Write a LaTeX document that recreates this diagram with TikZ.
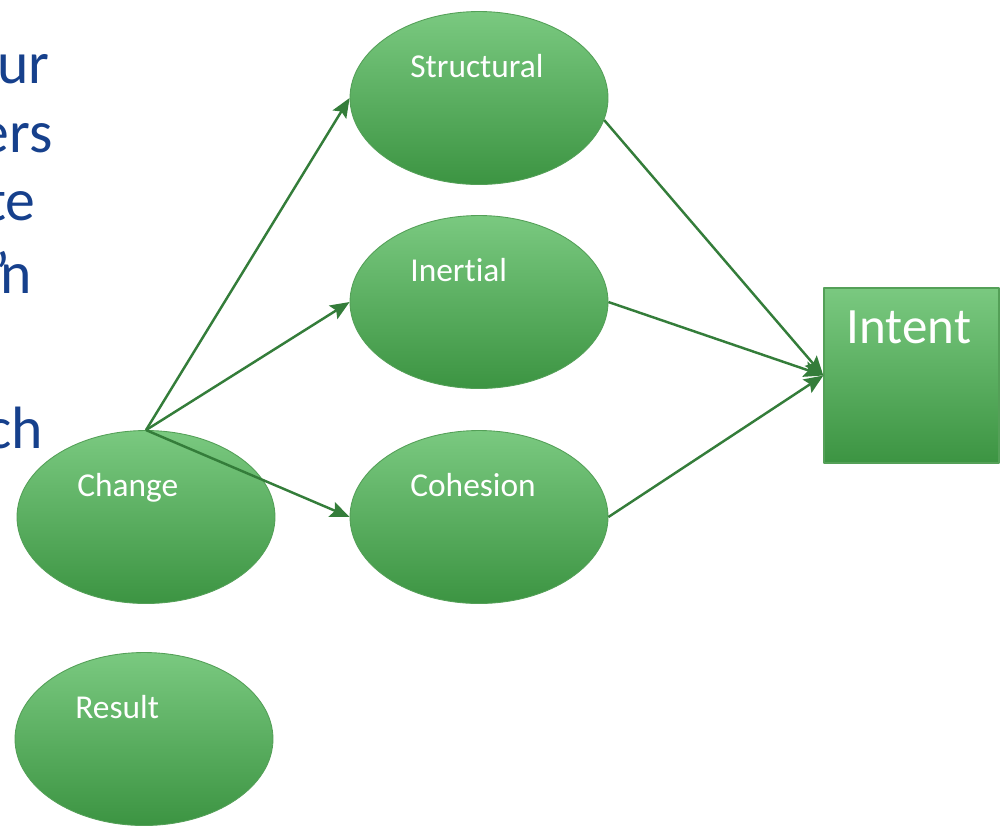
\documentclass[tikz,border=0pt]{standalone}
\usepackage{fontspec}
\setmainfont{Carlito}[Ligatures=NoCommon]
\usetikzlibrary{shapes.geometric,arrows.meta}
\definecolor{leaftop}{RGB}{122,201,128}
\definecolor{leafbot}{RGB}{60,148,66}
\definecolor{leafedge}{RGB}{84,160,88}
\definecolor{arrowgreen}{RGB}{52,125,58}
\definecolor{slideblue}{RGB}{22,64,140}
\begin{document}
\begin{tikzpicture}[x=0.02cm, y=-0.02cm, line join=round, >={Stealth[length=11pt,width=9pt,inset=2pt]}]
		\tikzset{blob/.style={ellipse, minimum width=5.16cm, minimum height=3.46cm, inner sep=0pt,
				top color=leaftop, bottom color=leafbot, draw=leafedge, line width=0.5pt},
			box/.style={rectangle, minimum size=3.5cm, inner sep=0pt,
				top color=leaftop, bottom color=leafbot, draw=leafedge, line width=0.8pt},
			tag/.style={text=white, font=\fontsize{19}{22}\selectfont, inner sep=0pt, anchor=base west},
			flow/.style={->, draw=arrowgreen, fill=arrowgreen, line width=1.4pt},
			side/.style={text=slideblue, font=\fontsize{34}{40}\selectfont, inner sep=0pt, anchor=base east}}
		\useasboundingbox (0,0) rectangle (1000,826);
		% left margin text, cut off by the page
		\foreach \x/\y/\t [count=\i] in {50/83/ur, 53/152/ers, 36/220/te, 32/293/’\kern-6pt n, 43/448/ch}
		\node[side] (side\i) at (\x,\y) {\t};
		\node[blob] (structural) at (479,98) {};
		\node[blob] (inertial) at (479,302) {};
		\node[blob] (cohesion) at (479,517) {};
		\node[blob] (change) at (146,517) {};
		\node[blob] (result) at (144,739) {};
		\node[box] (intent) at (911.5,375.5) {};
		\foreach \n/\t in {structural/Structural, inertial/Inertial, cohesion/Cohesion, change/Change, result/Result}
		\node[tag] (\n-tag) at ([shift={(-69,66)}]\n.north) {\t};
		\node[tag, font=\fontsize{29}{34}\selectfont] (intent-tag) at ([shift={(-65,56)}]intent.north) {Intent};
		\foreach \t in {structural, inertial, cohesion}
		\draw[flow] (change.north) -- (\t.west);
		\draw[flow] (structural.-10) -- (intent.west);
		\draw[flow] (inertial.east) -- (intent.west);
		\draw[flow] (cohesion.east) -- (intent.west);
\end{tikzpicture}
\end{document}
